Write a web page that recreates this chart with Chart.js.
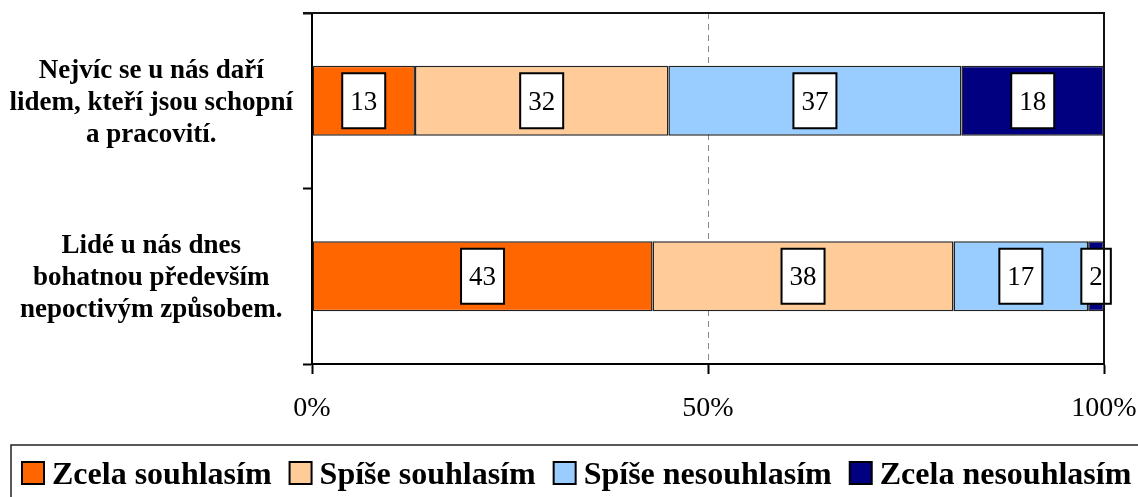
<!DOCTYPE html>
<html>
<head>
<meta charset="utf-8">
<script src="https://cdn.jsdelivr.net/npm/chart.js@4/dist/chart.umd.min.js"></script>
<style>
  body { margin: 0; background: #fff; }
  #wrap { width: 1138px; height: 497px; }
</style>
</head>
<body>
<div id="wrap"><canvas id="chart" width="1138" height="497"></canvas></div>
<script>
// Data
///////////////////////////////////////////////////////////////
const categories = [
    ["Nejvíc se u nás daří", "lidem, kteří jsou schopní", "a pracovití."],
    ["Lidé u nás dnes", "bohatnou především", "nepoctivým způsobem."]
];
const seriesNames = ["Zcela souhlasím", "Spíše souhlasím", "Spíše nesouhlasím", "Zcela nesouhlasím"];
const zcelaSouhlasim = [13, 43];
const spiseSouhlasim = [32, 38];
const spiseNesouhlasim = [37, 17];
const zcelaNesouhlasim = [18, 2];
const xTicks = [0, 50, 100];

const seriesValues = [zcelaSouhlasim, spiseSouhlasim, spiseNesouhlasim, zcelaNesouhlasim];
const seriesColours = ["#FF6600", "#FFCC99", "#99CCFF", "#000080"];
const SERIF = '"Liberation Serif", "Times New Roman", serif';

// Plugins
///////////////////////////////////////////////////////////////

// white boxed value labels in the middle of every segment
const valueBoxes = {
    id: 'valueBoxes',
    afterDatasetsDraw(chart) {
        const ctx = chart.ctx;
        ctx.save();
        ctx.font = '27px ' + SERIF;
        ctx.textAlign = 'center';
        ctx.textBaseline = 'middle';
        chart.data.datasets.forEach((ds, i) => {
            chart.getDatasetMeta(i).data.forEach((bar, j) => {
                const txt = String(ds.data[j]);
                const c = bar.getCenterPoint();
                const w = ctx.measureText(txt).width + 16;
                const h = 55;
                ctx.fillStyle = '#fff';
                ctx.fillRect(c.x - w / 2, c.y - h / 2, w, h);
                ctx.lineWidth = 2;
                ctx.strokeStyle = '#000';
                ctx.strokeRect(c.x - w / 2, c.y - h / 2, w, h);
                ctx.fillStyle = '#000';
                ctx.fillText(txt, c.x, c.y + 2);
            });
        });
        ctx.restore();
    }
};

// top and right edge of the plot area
const plotFrame = {
    id: 'plotFrame',
    afterDraw(chart) {
        const {ctx, chartArea: a} = chart;
        ctx.save();
        ctx.strokeStyle = '#111';
        ctx.lineWidth = 2;
        ctx.beginPath();
        ctx.moveTo(a.left - 9, a.top);
        ctx.lineTo(a.right, a.top);
        ctx.lineTo(a.right, a.bottom);
        ctx.stroke();
        ctx.restore();
    }
};

// boxed legend at the bottom
const boxLegend = {
    id: 'boxLegend',
    afterDraw(chart) {
        const ctx = chart.ctx;
        ctx.save();
        ctx.strokeStyle = '#222';
        ctx.lineWidth = 1.5;
        ctx.strokeRect(11, 445, 1140, 60);
        ctx.font = 'bold 32px ' + SERIF;
        ctx.textBaseline = 'alphabetic';
        let x = 22;
        chart.data.datasets.forEach(ds => {
            ctx.fillStyle = ds.backgroundColor;
            ctx.fillRect(x, 462, 22, 22);
            ctx.lineWidth = 2;
            ctx.strokeStyle = '#000';
            ctx.strokeRect(x, 462, 22, 22);
            ctx.fillStyle = '#000';
            ctx.fillText(ds.label, x + 30, 484);
            x += 30 + ctx.measureText(ds.label).width + 18;
        });
        ctx.restore();
    }
};

// Chart
///////////////////////////////////////////////////////////////
Chart.defaults.font.family = SERIF;
Chart.defaults.color = '#000';

const datasets = seriesNames.map((name, i) => ({
    label: name,
    data: seriesValues[i],
    backgroundColor: seriesColours[i],
    borderColor: '#222',
    borderWidth: 1.5,
    borderSkipped: false,
    barPercentage: 0.4,
    categoryPercentage: 1
}));

new Chart(document.getElementById('chart'), {
    type: 'bar',
    data: { labels: categories, datasets: datasets },
    options: {
        indexAxis: 'y',
        responsive: false,
        animation: false,
        layout: { padding: { top: 13, right: 34, left: 0, bottom: 63 } },
        plugins: {
            legend: { display: false },
            tooltip: { enabled: false }
        },
        scales: {
            x: {
                stacked: true,
                min: 0,
                max: 100,
                afterBuildTicks: scale => { scale.ticks = xTicks.map(v => ({ value: v })); },
                afterFit: scale => {
                    scale.height = 70;
                    scale.paddingLeft = 0;
                    scale.paddingRight = 0;
                },
                ticks: {
                    callback: v => v + '%',
                    font: { size: 28 },
                    padding: 18,
                    maxRotation: 0
                },
                grid: {
                    color: c => (c.tick && c.tick.value === 50) ? '#888' : 'rgba(0,0,0,0)',
                    lineWidth: 1,
                    tickColor: '#000',
                    tickWidth: 2,
                    tickLength: 10
                },
                border: { color: '#000', width: 2, dash: [6, 5] }
            },
            y: {
                stacked: true,
                afterFit: scale => {
                    scale.width = 312;
                    scale.paddingTop = 0;
                    scale.paddingBottom = 0;
                },
                ticks: {
                    font: { size: 27, weight: 'bold', lineHeight: 1.18 },
                    crossAlign: 'center',
                    padding: 10,
                    labelOffset: 2
                },
                grid: {
                    drawOnChartArea: false,
                    tickColor: '#000',
                    tickWidth: 2,
                    tickLength: 9
                },
                border: { color: '#000', width: 2 }
            }
        }
    },
    plugins: [valueBoxes, plotFrame, boxLegend]
});
</script>
</body>
</html>
